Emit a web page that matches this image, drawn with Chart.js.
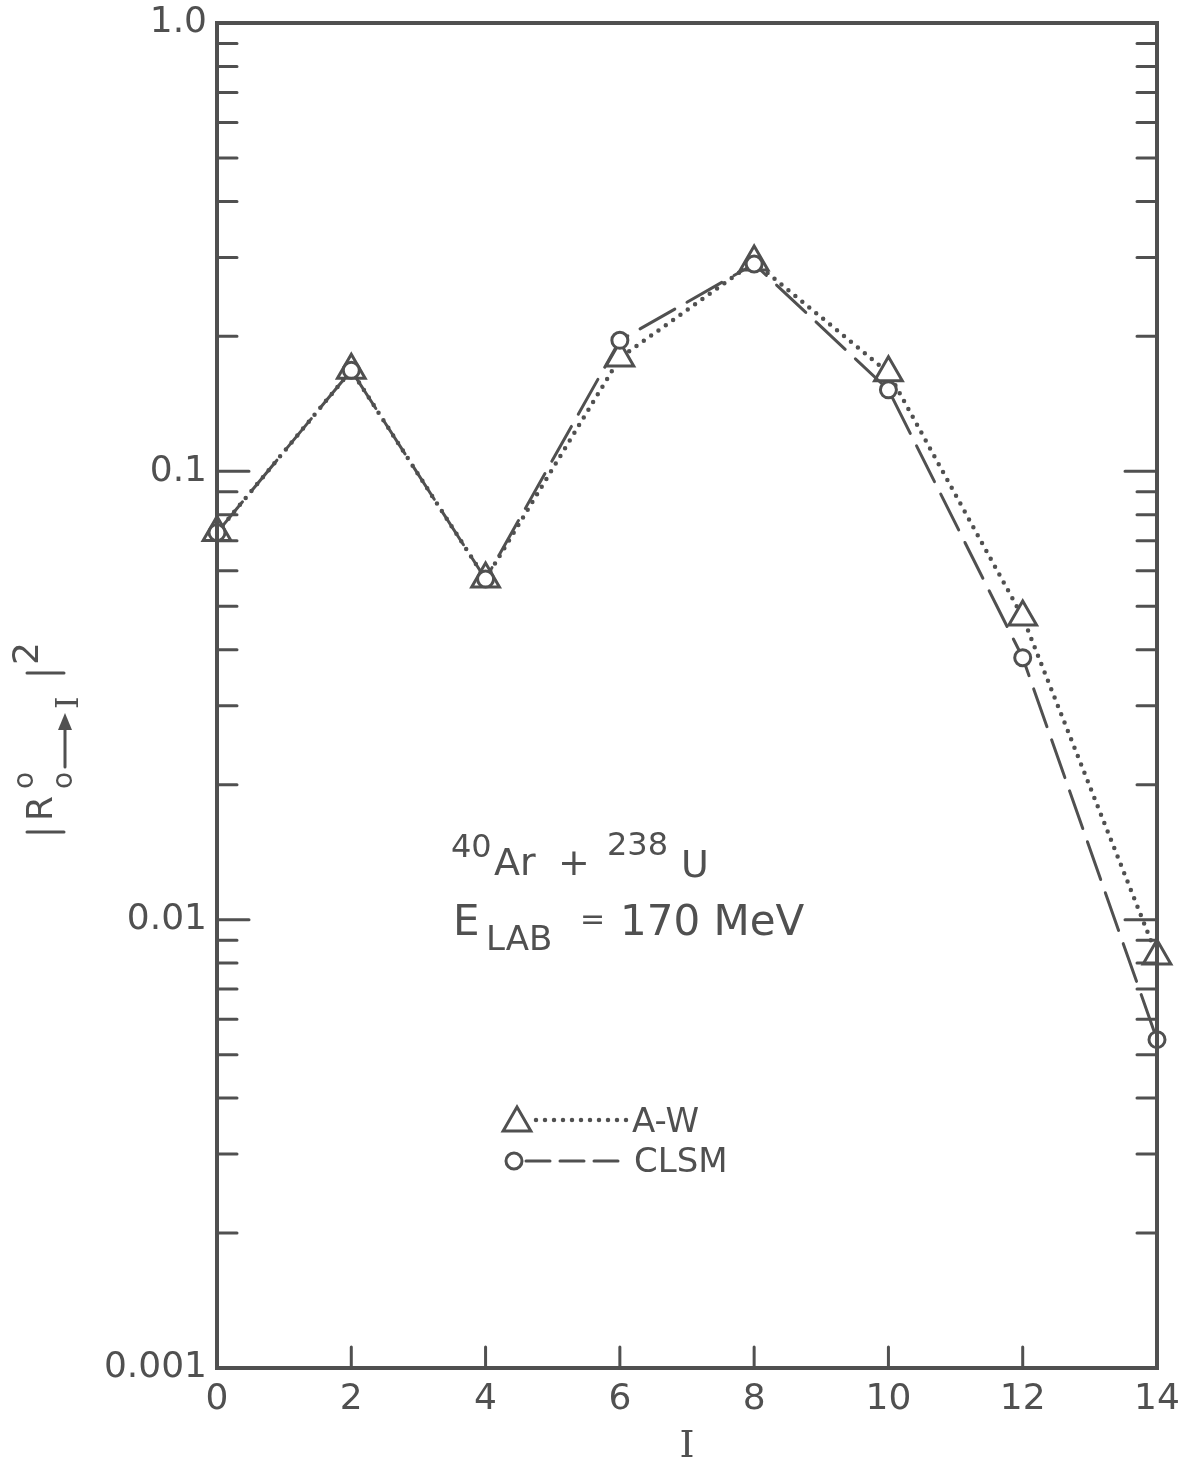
<!DOCTYPE html>
<html>
<head>
<meta charset="utf-8">
<title>|R00→I|2 vs I — 40Ar + 238U</title>
<script src="https://cdn.jsdelivr.net/npm/chart.js@4.4.1/dist/chart.umd.min.js"></script>
<style>
  html, body { margin: 0; padding: 0; background: #ffffff; }
  #wrap { width: 1181px; height: 1463px; }
</style>
</head>
<body>
<div id="wrap"><canvas id="c" width="1181" height="1463"></canvas></div>
<script>
// Spin values I and the squared reduced matrix elements for the two models
const spins = [0, 2, 4, 6, 8, 10, 12, 14];
const awValues = [0.073, 0.168, 0.0575, 0.179, 0.293, 0.166, 0.0473, 0.0083];
const clsmValues = [0.073, 0.168, 0.0575, 0.196, 0.290, 0.152, 0.0384, 0.0054];

// Axis ticks
const xTickValues = [0, 2, 4, 6, 8, 10, 12, 14];
const xTickLabels = ['0', '2', '4', '6', '8', '10', '12', '14'];
const xInnerTicks = [2, 4, 6, 8, 10, 12];
const yTickValues = [0.001, 0.01, 0.1, 1.0];
const yTickLabels = ['0.001', '0.01', '0.1', '1.0'];
const yMinorMultipliers = [2, 3, 4, 5, 6, 7, 8, 9];

const INK = '#505050';
const FONT = '"DejaVu Sans", "Liberation Sans", sans-serif';
const SERIF = '"DejaVu Serif", "Liberation Serif", serif';

// Frame, inward tick marks, axis titles, annotation and key
const decorations = {
  id: 'decorations',
  afterDraw(chart) {
    const ctx = chart.ctx;
    const a = chart.chartArea;
    const xs = chart.scales.x, ys = chart.scales.y;
    ctx.save();
    ctx.strokeStyle = INK;
    ctx.fillStyle = INK;
    ctx.lineCap = 'round';

    // box frame
    ctx.lineWidth = 4;
    ctx.strokeRect(a.left, a.top, a.right - a.left, a.bottom - a.top);

    // y ticks (both sides, inward)
    ctx.lineWidth = 3;
    const decades = yTickValues.slice(0, -1);
    decades.forEach(d => {
      yMinorMultipliers.forEach(m => {
        const py = ys.getPixelForValue(d * m);
        ctx.beginPath();
        ctx.moveTo(a.left, py); ctx.lineTo(a.left + 20, py);
        ctx.moveTo(a.right, py); ctx.lineTo(a.right - 20, py);
        ctx.stroke();
      });
    });
    yTickValues.slice(1, -1).forEach(v => {
      const py = ys.getPixelForValue(v);
      ctx.beginPath();
      ctx.moveTo(a.left, py); ctx.lineTo(a.left + 32, py);
      ctx.moveTo(a.right, py); ctx.lineTo(a.right - 32, py);
      ctx.stroke();
    });
    // x ticks (bottom, inward)
    xInnerTicks.forEach(v => {
      const px = xs.getPixelForValue(v);
      ctx.beginPath();
      ctx.moveTo(px, a.bottom); ctx.lineTo(px, a.bottom - 21);
      ctx.stroke();
    });

    const txt = (s, x, y, size, family, align) => {
      ctx.font = size + 'px ' + (family || FONT);
      ctx.textAlign = align || 'left';
      ctx.textBaseline = 'alphabetic';
      ctx.fillText(s, x, y);
    };

    // x axis title
    txt('I', 687, 1457, 38, SERIF, 'center');

    // y axis title  |R^0_{0→I}|^2, read bottom to top
    ctx.save();
    ctx.translate(52, 835);
    ctx.rotate(-Math.PI / 2);
    ctx.lineWidth = 3;
    ctx.beginPath();
    ctx.moveTo(3, -25); ctx.lineTo(3, 12);
    ctx.moveTo(162, -25); ctx.lineTo(162, 12);
    ctx.stroke();
    txt('R', 14, 0, 36);
    txt('o', 46, -19, 28);
    txt('o', 46, 20, 28);
    // arrow
    ctx.beginPath();
    ctx.moveTo(68, 13); ctx.lineTo(112, 13);
    ctx.stroke();
    ctx.beginPath();
    ctx.moveTo(122, 13); ctx.lineTo(105, 6); ctx.lineTo(105, 20); ctx.closePath();
    ctx.fill();
    txt('I', 126, 26, 32, SERIF);
    txt('2', 170, -14, 36);
    ctx.restore();

    // annotation
    txt('40', 451, 857, 32);
    txt('Ar', 494, 875, 38);
    txt('+', 558, 875, 38);
    txt('238', 607, 855, 32);
    txt('U', 681, 877, 38);
    txt('E', 453, 935, 42);
    txt('LAB', 486, 950, 34);
    txt('=', 580, 929, 30);
    txt('170 MeV', 620, 935, 42);

    // key
    const aw = chart.data.datasets[1], cl = chart.data.datasets[0];
    ctx.lineWidth = 3;
    ctx.fillStyle = '#ffffff';
    Chart.helpers.drawPoint(ctx, { pointStyle: 'triangle', radius: aw.pointRadius, rotation: 0, borderWidth: 3 }, 517, 1123);
    ctx.fillStyle = INK;
    ctx.save();
    ctx.lineWidth = aw.borderWidth;
    ctx.setLineDash(aw.borderDash);
    ctx.beginPath(); ctx.moveTo(536, 1120); ctx.lineTo(630, 1120); ctx.stroke();
    ctx.restore();
    txt('A-W', 632, 1132, 34);

    ctx.save();
    ctx.fillStyle = '#ffffff';
    Chart.helpers.drawPoint(ctx, { pointStyle: 'circle', radius: cl.pointRadius, rotation: 0, borderWidth: 3 }, 514, 1161);
    ctx.restore();
    ctx.save();
    ctx.lineWidth = cl.borderWidth;
    ctx.setLineDash([24, 10]);
    ctx.beginPath(); ctx.moveTo(526, 1161); ctx.lineTo(627, 1161); ctx.stroke();
    ctx.restore();
    txt('CLSM', 634, 1172, 34);

    ctx.restore();
  }
};

const toPoints = vals => spins.map((s, i) => ({ x: s, y: vals[i] }));

new Chart(document.getElementById('c'), {
  type: 'line',
  data: {
    datasets: [
      {
        label: 'CLSM',
        data: toPoints(clsmValues),
        borderColor: INK,
        borderWidth: 3,
        borderDash: [40, 14],
        borderCapStyle: 'round',
        pointStyle: 'circle',
        pointRadius: 8,
        pointBorderWidth: 3,
        pointBorderColor: INK,
        pointBackgroundColor: '#ffffff',
        tension: 0,
        clip: false
      },
      {
        label: 'A-W',
        data: toPoints(awValues),
        borderColor: INK,
        borderWidth: 4.5,
        borderDash: [0, 9],
        borderCapStyle: 'round',
        pointStyle: 'triangle',
        pointRadius: 16,
        pointBorderWidth: 3,
        pointBorderColor: INK,
        pointBackgroundColor: '#ffffff',
        tension: 0,
        clip: false
      }
    ]
  },
  options: {
    responsive: false,
    animation: false,
    devicePixelRatio: 1,
    layout: { padding: { top: 23, right: 24, left: 0, bottom: 0 } },
    plugins: { legend: { display: false }, tooltip: { enabled: false } },
    scales: {
      x: {
        type: 'linear',
        min: 0, max: 14,
        grid: { display: false, drawTicks: false },
        border: { display: false },
        afterBuildTicks: s => { s.ticks = xTickValues.map(v => ({ value: v })); },
        afterFit: s => { s.height = 95; s.paddingLeft = 0; s.paddingRight = 0; },
        ticks: {
          autoSkip: false,
          maxRotation: 0,
          padding: 10,
          color: INK,
          font: { family: FONT, size: 36 },
          callback: v => xTickLabels[xTickValues.indexOf(v)]
        }
      },
      y: {
        type: 'logarithmic',
        min: 0.001, max: 1.0,
        grid: { display: false, drawTicks: false },
        border: { display: false },
        afterBuildTicks: s => { s.ticks = yTickValues.map(v => ({ value: v })); },
        afterFit: s => { s.width = 217; s.paddingTop = 0; s.paddingBottom = 0; },
        ticks: {
          autoSkip: false,
          padding: 10,
          color: INK,
          font: { family: FONT, size: 36 },
          callback: v => yTickLabels[yTickValues.indexOf(v)]
        }
      }
    }
  },
  plugins: [decorations]
});
</script>
</body>
</html>
